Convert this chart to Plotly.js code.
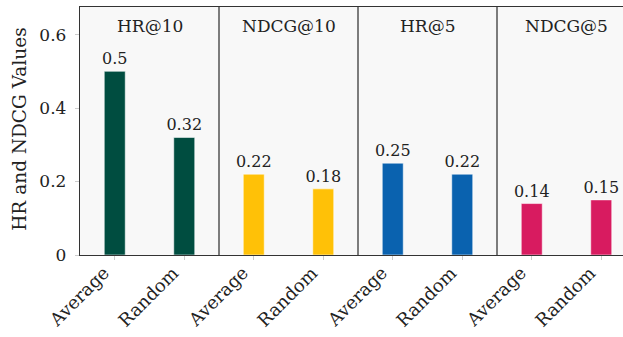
<!DOCTYPE html>
<html>
<head>
<meta charset="utf-8">
<script src="https://cdn.plot.ly/plotly-3.0.1.min.js"></script>
<style>html,body{margin:0;padding:0;background:#fff;}#chart{width:623px;height:337px;}</style>
</head>
<body>
<div id="chart"></div>
<script>
const metrics = ['HR@10', 'NDCG@10', 'HR@5', 'NDCG@5'];
const methods = ['Average', 'Random'];
const hr10 = [0.5, 0.32];
const ndcg10 = [0.22, 0.18];
const hr5 = [0.25, 0.22];
const ndcg5 = [0.14, 0.15];
const seriesValues = [hr10, ndcg10, hr5, ndcg5];
const colors = ['#004D40', '#FFC107', '#0A62AF', '#D81B60'];
const yTicks = [0, 0.2, 0.4, 0.6];
const yTickText = ['0', '0.2', '0.4', '0.6'];

const FONT = 'DejaVu Serif';
const offsets = [0.25, 0.75];

const traces = metrics.map((m, i) => ({
  type: 'bar',
  x: methods.map((_, j) => i + offsets[j]),
  y: seriesValues[i],
  width: 0.151,
  marker: {color: colors[i], line: {color: 'rgba(255,255,255,0.55)', width: 1}},
  text: seriesValues[i].map(v => String(v)),
  textposition: 'outside',
  constraintext: 'none',
  textfont: {family: FONT, size: 16, color: '#222'},
  cliponaxis: false,
  hoverinfo: 'skip',
  showlegend: false
}));

const tickvals = [], ticktext = [];
metrics.forEach((m, i) => methods.forEach((n, j) => { tickvals.push(i + offsets[j]); ticktext.push(n); }));

const shapes = [1, 2, 3].map(x => ({
  type: 'line', xref: 'x', yref: 'paper', x0: x, x1: x, y0: 0, y1: 1,
  line: {color: '#000', width: 1}
}));

const annotations = metrics.map((m, i) => ({
  xref: 'x', yref: 'paper', x: i + 0.5, y: 1, yshift: -19,
  xanchor: 'center', yanchor: 'middle', showarrow: false,
  text: m, font: {family: FONT, size: 17, color: '#222'}
}));
tickvals.forEach((tv, k) => annotations.push({
  xref: 'x', yref: 'paper', x: tv, y: 0, yshift: -4, xshift: 1,
  xanchor: 'right', yanchor: 'top', showarrow: false, textangle: -45,
  text: ticktext[k], font: {family: FONT, size: 18, color: '#222'}
}));
annotations.push({
  xref: 'paper', yref: 'paper', x: 0, y: 0.505, xshift: -60,
  xanchor: 'center', yanchor: 'middle', showarrow: false, textangle: -90,
  text: 'HR and NDCG Values', font: {family: FONT, size: 18.5, color: '#222'}
});

const layout = {
  width: 623, height: 337,
  margin: {l: 80, r: 0, t: 7, b: 82, pad: 0},
  paper_bgcolor: '#fff', plot_bgcolor: '#f8f8f8',
  font: {family: FONT, size: 17, color: '#222'},
  bargap: 0,
  xaxis: {
    range: [0, 543 / 139], tickvals: tickvals, showticklabels: false,
    ticks: 'outside', ticklen: 4, tickcolor: '#ccc', tickwidth: 1,
    showline: true, linecolor: '#333', linewidth: 1.2, mirror: true,
    showgrid: false, zeroline: false, fixedrange: true
  },
  yaxis: {
    range: [0, 0.675], tickvals: yTicks, ticktext: yTickText,
    ticks: 'outside', ticklen: 4, tickcolor: '#ccc', tickwidth: 1,
    ticklabelstandoff: 5,
    tickfont: {family: FONT, size: 17, color: '#222'},
    showline: true, linecolor: '#333', linewidth: 1.2,
    showgrid: false, zeroline: false, fixedrange: true
  },
  shapes: shapes,
  annotations: annotations
};

Plotly.newPlot('chart', traces, layout, {staticPlot: true, displayModeBar: false});
</script>
</body>
</html>
